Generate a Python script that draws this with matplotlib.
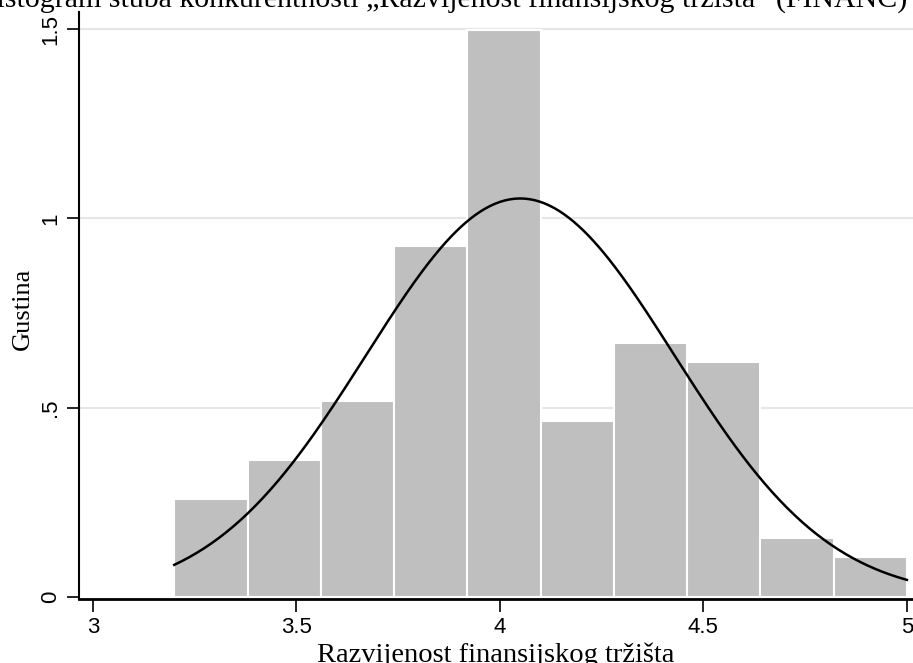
import numpy as np
import matplotlib
matplotlib.use("Agg")
import matplotlib.pyplot as plt

# histogram bins (density scale) for FINANC
bin_edges = [3.2, 3.38, 3.56, 3.74, 3.92, 4.10, 4.28, 4.46, 4.64, 4.82, 5.0]
densities = [0.259, 0.362, 0.517, 0.928, 1.497, 0.465, 0.672, 0.620, 0.156, 0.105]

# normal curve parameters
mean_val = 4.05
sd_val = 0.379

y_ticks = [0, 0.5, 1, 1.5]
y_labels = ["0", ".5", "1", "1.5"]
x_ticks = [3, 3.5, 4, 4.5, 5]
x_labels = ["3", "3.5", "4", "4.5", "5"]

fig = plt.figure(figsize=(9.13, 6.63), dpi=100)
ax_left, ax_bottom = 79 / 913, 64 / 663
ax = fig.add_axes([ax_left, ax_bottom, 1 - ax_left, 1 - ax_bottom - 12 / 663])

widths = np.diff(bin_edges)
ax.bar(bin_edges[:-1], densities, width=widths, align="edge",
       color="#bfbfbf", edgecolor="white", linewidth=1.5, zorder=2)

xs = np.linspace(bin_edges[0], bin_edges[-1], 300)
ys = np.exp(-0.5 * ((xs - mean_val) / sd_val) ** 2) / (sd_val * np.sqrt(2 * np.pi))
ax.plot(xs, ys, color="black", linewidth=1.8, zorder=3)

ax.set_xlim(2.966, 5.015)
ax.set_ylim(-0.005, 1.545)

# horizontal grid lines (none at zero)
for yv in y_ticks[1:]:
    ax.axhline(yv, color="#e6e6e6", linewidth=1.5, zorder=0)

ax.set_yticks(y_ticks)
ax.set_yticklabels(y_labels, rotation=90, va="center", family="Liberation Sans", fontsize=16)
ax.set_xticks(x_ticks)
ax.set_xticklabels(x_labels, family="Liberation Sans", fontsize=16)
ax.tick_params(axis="both", length=9, width=1.2, color="black", pad=4)

for side in ["top", "right"]:
    ax.spines[side].set_visible(False)
ax.spines["left"].set_linewidth(1.5)
ax.spines["bottom"].set_linewidth(2)

ax.set_ylabel("Gustina", family="Liberation Serif", fontsize=19)
ax.yaxis.set_label_coords(-45 / 834, 0.495)
ax.set_xlabel("Razvijenost finansijskog tržišta", family="Liberation Serif",
              fontsize=20.5, labelpad=3)

fig.text(441 / 913, 1 - 7 / 663,
         "Histogram stuba konkurentnosti „Razvijenost finansijskog tržišta\u201d (FINANC)",
         family="Liberation Serif", fontsize=21.5, ha="center", va="baseline")

fig.savefig("out.png", dpi=100)
